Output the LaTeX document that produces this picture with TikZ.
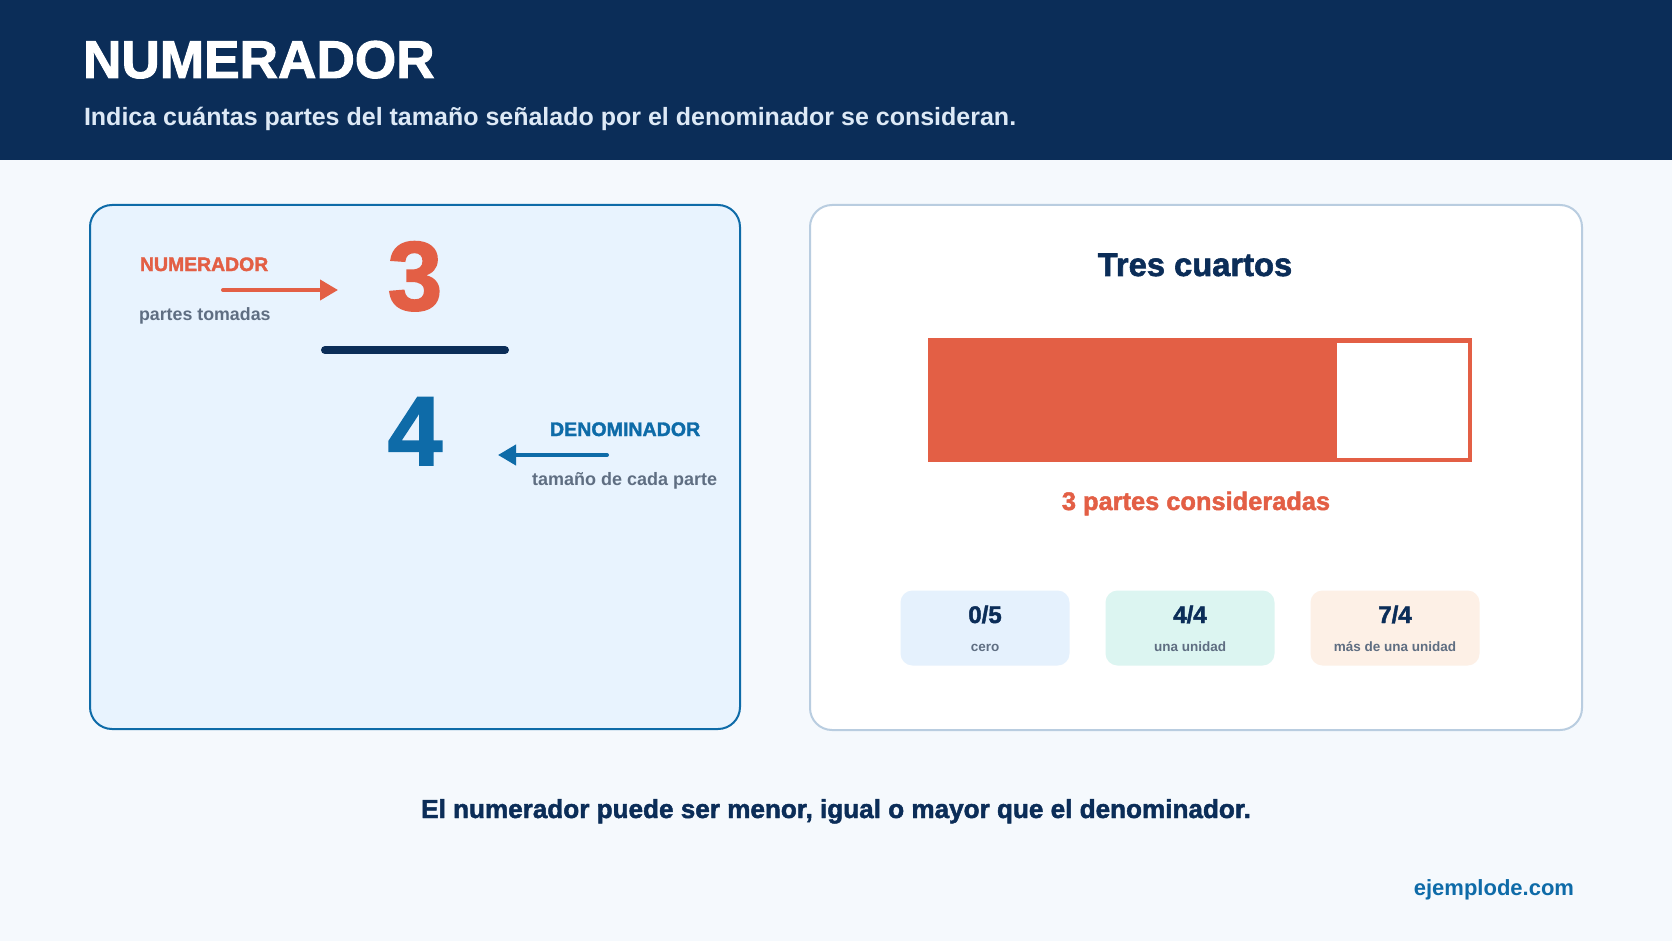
\documentclass[tikz,border=0pt]{standalone}
\usepackage{fontspec}
\setmainfont{Liberation Sans}
\newfontfamily\heavyfont{Liberation Sans}[BoldFeatures={FakeBold=1.8}]
\usetikzlibrary{arrows.meta}
\definecolor{navy}{HTML}{0B2D58}
\definecolor{orng}{HTML}{E35F45}
\definecolor{blu}{HTML}{0E6BA8}
\definecolor{gry}{HTML}{5F6E82}
\definecolor{subc}{HTML}{DDE9F6}
\definecolor{bgc}{HTML}{F5F9FD}
\definecolor{lcard}{HTML}{E8F3FE}
\definecolor{rborder}{HTML}{B9CDE0}
\definecolor{boxa}{HTML}{E5F1FD}
\definecolor{boxb}{HTML}{DCF5F1}
\definecolor{boxc}{HTML}{FDF0E6}
\begin{document}
\begin{tikzpicture}[x=1pt,y=-1pt,
  txt/.style={inner sep=0pt, outer sep=0pt},
  fs/.style={font=\fontsize{#1}{#1}\selectfont\bfseries},
  hv/.style={font=\fontsize{#1}{#1}\selectfont\heavyfont\bfseries},
  pointer/.style={line width=4pt, line cap=round, -{Triangle[length=18pt,width=20pt]}},
  chip/.style={rounded corners=12pt, minimum width=169pt, minimum height=75pt, inner sep=0pt}]
\useasboundingbox (0,0) rectangle (1672,941);
\fill[bgc] (0,0) rectangle (1672,941);
% header
\fill[navy] (0,0) rectangle (1672,160);
\node[txt, anchor=base west, text=white, hv=53.2] (title) at (83,78) {NUMERADOR};
\node[txt, anchor=base west, text=subc, fs=25] (subtitle) at (84,126) {Indica cuántas partes del tamaño señalado por el denominador se consideran.};
% left card
\draw[line width=2pt, draw=blu, fill=lcard, rounded corners=22pt] (90,205) rectangle (740,729);
\node[txt, anchor=base west, text=orng, hv=19.4] (numlbl) at (140,271) {NUMERADOR};
\node[txt, anchor=base west, text=gry, fs=17.8] (numsub) at (139,320) {partes tomadas};
\node[txt, anchor=base, text=orng, hv=98] (three) at (415,310) {3};
\coordinate (na1) at (223,290);
\coordinate (na2) at (338,290);
\draw[pointer, orng] (na1) -- (na2);
\coordinate (bar1) at (325,350);
\coordinate (bar2) at (505,350);
\draw[line width=8pt, line cap=round, navy] (bar1) -- (bar2);
\node[txt, anchor=base, text=blu, hv=98] (four) at (415,465) {4};
\node[txt, anchor=base west, text=blu, hv=19.6] (denlbl) at (550,436) {DENOMINADOR};
\node[txt, anchor=base west, text=gry, fs=18] (densub) at (532,485) {tamaño de cada parte};
\coordinate (da1) at (607,455);
\coordinate (da2) at (498,455);
\draw[pointer, blu] (da1) -- (da2);
% right card
\draw[line width=2pt, draw=rborder, fill=white, rounded corners=22pt] (810,205) rectangle (1582,730);
\node[txt, anchor=base, text=navy, hv=32.7] (rtitle) at (1195,276) {Tres cuartos};
\fill[orng] (928,338) rectangle (1472,461.5);
\fill[white] (1337,342.5) rectangle (1468,457.5);
\node[txt, anchor=base, text=orng, hv=25.4] (parts) at (1196,510) {3 partes consideradas};
\node[chip, fill=boxa] (c1) at (985,628) {};
\node[chip, fill=boxb] (c2) at (1190,628) {};
\node[chip, fill=boxc] (c3) at (1395,628) {};
\node[txt, anchor=base, text=navy, hv=24] (c1a) at (985,623) {0/5};
\node[txt, anchor=base, text=gry, fs=13.5] (c1b) at (985,651) {cero};
\node[txt, anchor=base, text=navy, hv=24] (c2a) at (1190,623) {4/4};
\node[txt, anchor=base, text=gry, fs=13.5] (c2b) at (1190,651) {una unidad};
\node[txt, anchor=base, text=navy, hv=24] (c3a) at (1395,623) {7/4};
\node[txt, anchor=base, text=gry, fs=13.5] (c3b) at (1395,651) {más de una unidad};
% footer
\node[txt, anchor=base, text=navy, hv=26.1] (note) at (836,818) {El numerador puede ser menor, igual o mayor que el denominador.};
\node[txt, anchor=base east, text=blu, fs=22] (site) at (1574,895) {ejemplode.com};
\end{tikzpicture}
\end{document}
